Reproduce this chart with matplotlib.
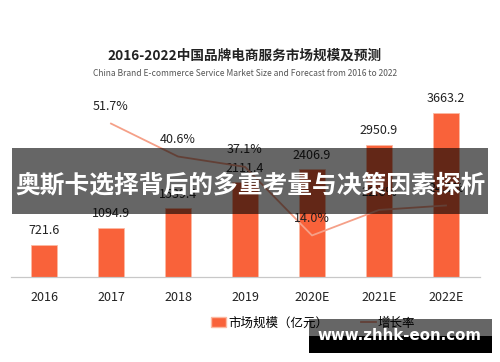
import matplotlib.pyplot as plt
from matplotlib.patches import Rectangle, Patch
from matplotlib.lines import Line2D

plt.rcParams['font.family'] = ['Noto Sans CJK SC', 'DejaVu Sans']

# 数据
years = ['2016', '2017', '2018', '2019', '2020E', '2021E', '2022E']
market_size = [721.6, 1094.9, 1539.4, 2111.4, 2406.9, 2950.9, 3663.2]  # 亿元
growth_years = ['2017', '2018', '2019', '2020E', '2021E', '2022E']
growth_rate = [51.7, 40.6, 37.1, 14.0, 22.6, 24.1]  # %

bar_color = '#F9623A'
line_color = '#F5A088'

fig = plt.figure(figsize=(5, 3.62), dpi=100)
ax = fig.add_axes([0.021, 0.2348, 0.938, 0.496])
ax2 = ax.twinx()

x = list(range(len(years)))
ax.bar(x, market_size, width=0.4, color=bar_color, edgecolor='#FBB9A2', linewidth=0.6, zorder=2)
for xi, v in zip(x, market_size):
    ax.annotate(f'{v:.1f}', (xi, v), xytext=(0, 10), textcoords='offset points',
                ha='center', va='center', fontsize=9, color='#222222')

gx = [years.index(y) for y in growth_years]
ax2.plot(gx, growth_rate, color=line_color, linewidth=1.3)
for xi, v in zip(gx, growth_rate):
    ax2.annotate(f'{v:.1f}%', (xi, v), xytext=(0, 12.5), textcoords='offset points',
                 ha='center', va='center', fontsize=9, color='#222222')

ax.set_xlim(-0.5, 6.5)
ax.set_ylim(0, 4000)
ax2.set_ylim(0, 60.5)
ax.set_xticks(x)
ax.set_xticklabels(years, fontsize=9, color='#222222')
ax.tick_params(axis='x', length=0, pad=10)
ax.set_yticks([])
ax2.set_yticks([])
for a in (ax, ax2):
    for s in ('top', 'right', 'left'):
        a.spines[s].set_visible(False)
    a.spines['bottom'].set_color('#C8C8C8')

# 标题
fig.text(0.49, 1 - 56 / 362, '2016-2022中国品牌电商服务市场规模及预测',
         ha='center', va='center', fontsize=9.8, fontweight='bold', color='#222222')
fig.text(0.49, 1 - 74 / 362,
         'China Brand E-commerce Service Market Size and Forecast from 2016 to 2022',
         ha='center', va='center', fontsize=6.1, color='#555555')

# 图例
handles = [Patch(facecolor=bar_color, edgecolor='#FBB9A2'),
           Line2D([0], [0], color=line_color, linewidth=1.3)]
fig.legend(handles, ['市场规模（亿元）', '增长率'], loc='center',
           bbox_to_anchor=(0.626, 1 - 323 / 362), ncol=2, frameon=False,
           fontsize=9, handlelength=1.2, handleheight=0.8, columnspacing=2.6,
           handletextpad=0.2)

# 横幅
fig.patches.append(Rectangle((12 / 500, 1 - 214 / 362), 476 / 500, 66 / 362,
                             transform=fig.transFigure, facecolor='black',
                             alpha=0.6, zorder=10))
fig.text(0.5, 1 - 185 / 362, '奥斯卡选择背后的多重考量与决策因素探析',
         ha='center', va='center', fontsize=17.8, fontweight='bold',
         color='white', zorder=11)

# 水印
fig.patches.append(Rectangle((309 / 500, 1 - 353 / 362), 183 / 500, 34 / 362,
                             transform=fig.transFigure, facecolor='black',
                             alpha=0.6, zorder=10))
fig.patches.append(Rectangle((309 / 500, 1 - 353 / 362), 183 / 500, 17 / 362,
                             transform=fig.transFigure, facecolor='black',
                             zorder=10))
fig.text(399 / 500, 1 - 335 / 362, 'www.zhhk-eon.com', ha='center', va='center',
         fontsize=10.8, fontweight='bold', color='white', family='DejaVu Sans',
         zorder=11)

fig.savefig('out.png', dpi=100)
